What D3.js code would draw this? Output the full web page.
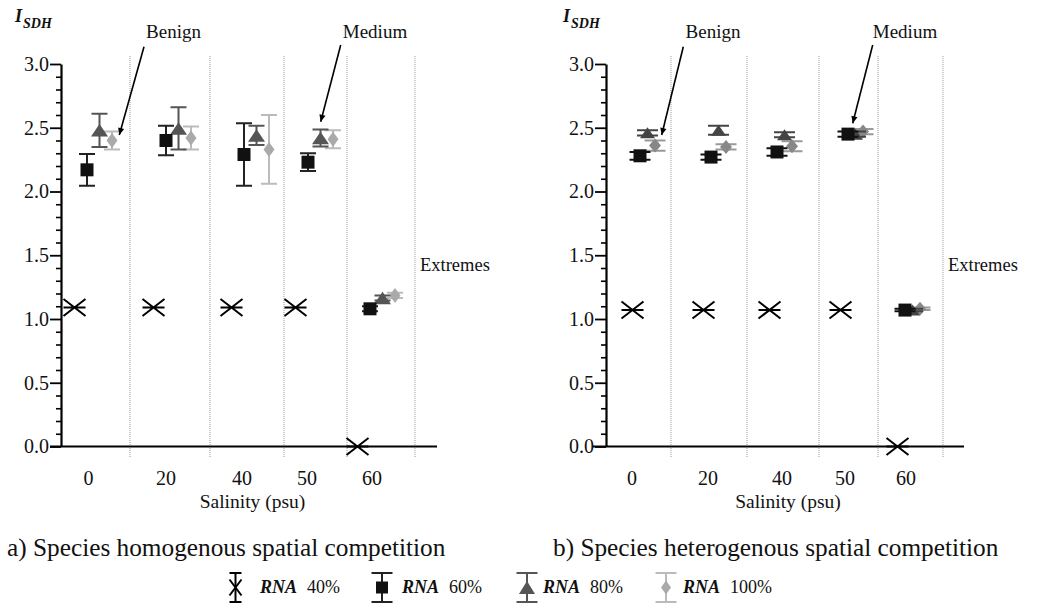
<!DOCTYPE html>
<html><head><meta charset="utf-8">
<script src="https://cdn.jsdelivr.net/npm/d3@7"></script>
</head><body style="margin:0;background:#fff">
<svg id="chart" width="1048" height="606"></svg>
<script>
// ---------------- data ----------------
const categories = ["0", "20", "40", "50", "60"];
const seriesNames = ["RNA 40%", "RNA 60%", "RNA 80%", "RNA 100%"];
const legendPercents = ["40%", "60%", "80%", "100%"];
const yTicks = [0, 0.5, 1, 1.5, 2, 2.5, 3];

// a) homogenous
const homo40 = [1.09, 1.09, 1.09, 1.09, 0.0];
const homo40Err = [0, 0, 0, 0, 0];
const homo60 = [2.17, 2.40, 2.29, 2.23, 1.08];
const homo60Err = [0.125, 0.115, 0.245, 0.07, 0.02];
const homo80 = [2.48, 2.495, 2.44, 2.42, 1.165];
const homo80Err = [0.13, 0.165, 0.075, 0.067, 0.02];
const homo100 = [2.40, 2.42, 2.33, 2.41, 1.185];
const homo100Err = [0.07, 0.09, 0.27, 0.07, 0.02];

// b) heterogenous
const hetero40 = [1.07, 1.07, 1.07, 1.07, 0.0];
const hetero40Err = [0, 0, 0, 0, 0];
const hetero60 = [2.28, 2.27, 2.31, 2.45, 1.07];
const hetero60Err = [0.03, 0.02, 0.03, 0.02, 0.01];
const hetero80 = [2.46, 2.48, 2.445, 2.45, 1.07];
const hetero80Err = [0.02, 0.035, 0.02, 0.02, 0.01];
const hetero100 = [2.36, 2.35, 2.355, 2.47, 1.08];
const hetero100Err = [0.04, 0.02, 0.04, 0.02, 0.01];

// ---------------- layout ----------------
const FONT = "'Liberation Serif', 'Times New Roman', serif";
const svg = d3.select("#chart").style("font-family", FONT);
const y = d3.scaleLinear().domain([0, 3]).range([446.5, 64]);

function txt(sel) { return sel.append("text").style("font-family", FONT); }

const panels = [
  {
    caption: "a) Species homogenous spatial competition", captionX: 7,
    axisX: 61, lineX0: 50, lineX1: 437,
    groupX: [87, 166, 244, 308, 370],
    labelX: [88.5, 166, 242, 307, 372],
    seps: [130, 210, 284, 347, 415],
    offsets: [-12.5, 0, 12.5, 25],
    cap: 16,
    vals: [homo40, homo60, homo80, homo100],
    errs: [homo40Err, homo60Err, homo80Err, homo100Err],
    fills: ["#000", "#111", "#555", "#aaa"],
    errColors: ["#000", "#222", "#555", "#bbb"],
    tri: [17, 12.5], dia: [11, 15], sq: 13,
    xlabelX: 252.5, yLabelX: 15, extremesX: 420,
    notes: [
      {text: "Benign", tx: 173.5, x1: 144, y1: 46.7, x2: 119.3, y2: 135},
      {text: "Medium", tx: 375, x1: 340.7, y1: 45, x2: 320.7, y2: 121.7}
    ]
  },
  {
    caption: "b) Species heterogenous spatial competition", captionX: 553,
    axisX: 606, lineX0: 593, lineX1: 964,
    groupX: [640, 711, 777, 848, 905],
    labelX: [632, 708, 782, 845, 906],
    seps: [671, 747, 819, 878, 943],
    offsets: [-7.5, 0, 7.5, 15],
    cap: 21,
    vals: [hetero40, hetero60, hetero80, hetero100],
    errs: [hetero40Err, hetero60Err, hetero80Err, hetero100Err],
    fills: ["#000", "#111", "#444", "#888"],
    errColors: ["#000", "#111", "#444", "#999"],
    tri: [15, 11], dia: [12, 14], sq: 13,
    xlabelX: 788, yLabelX: 563, extremesX: 948,
    notes: [
      {text: "Benign", tx: 713, x1: 683.3, y1: 46.7, x2: 661.7, y2: 135},
      {text: "Medium", tx: 905, x1: 872.7, y1: 45, x2: 852.7, y2: 123.3}
    ]
  }
];

svg.append("defs").append("marker")
  .attr("id", "arrow").attr("viewBox", "0 0 10 10")
  .attr("refX", 10).attr("refY", 5)
  .attr("markerWidth", 10).attr("markerHeight", 7)
  .attr("markerUnits", "userSpaceOnUse")
  .attr("orient", "auto")
  .append("path").attr("d", "M0,0.5 L10,5 L0,9.5 Z").attr("fill", "#000");

function shapePath(kind, p) {
  if (kind === 1) { const s = p.sq / 2; return `M${-s},${-s}H${s}V${s}H${-s}Z`; }
  if (kind === 2) { const w = p.tri[0] / 2, h = p.tri[1] / 2; return `M0,${-h}L${w},${h}L${-w},${h}Z`; }
  const w = p.dia[0] / 2, h = p.dia[1] / 2;
  return `M0,${-h}L${w},0L0,${h}L${-w},0Z`;
}

panels.forEach(p => {
  const g = svg.append("g");
  const xs = d3.scaleOrdinal().domain(categories).range(p.groupX);
  const xl = d3.scaleOrdinal().domain(categories).range(p.labelX);

  // separators
  g.selectAll(".sep").data(p.seps).join("line")
    .attr("x1", d => d).attr("x2", d => d)
    .attr("y1", 56).attr("y2", 458)
    .attr("stroke", "#999").attr("stroke-width", 1)
    .attr("stroke-dasharray", "1,1");

  // minor ticks
  const minor = d3.range(1, 30).map(i => i / 10).filter(v => Math.abs(v * 2 - Math.round(v * 2)) > 1e-6);
  g.append("g").attr("transform", `translate(${p.axisX},0)`)
    .call(d3.axisLeft(y).tickValues(minor).tickSize(5).tickFormat(""))
    .call(s => s.select(".domain").remove())
    .call(s => s.selectAll("line").attr("stroke", "#000").attr("stroke-width", 1.6));

  // major axis
  const ax = g.append("g").attr("transform", `translate(${p.axisX},0)`)
    .call(d3.axisLeft(y).tickValues(yTicks).tickSize(11).tickSizeOuter(0).tickPadding(1).tickFormat(d3.format(".1f")));
  ax.style("font-family", FONT);
  ax.select(".domain").attr("stroke", "#000").attr("stroke-width", 2.2);
  ax.selectAll(".tick line").attr("stroke", "#000").attr("stroke-width", 1.8);
  ax.selectAll(".tick text").style("font-family", FONT).attr("font-size", 20).attr("fill", "#111");

  // x baseline
  g.append("line").attr("x1", p.lineX0).attr("x2", p.lineX1)
    .attr("y1", y(0)).attr("y2", y(0)).attr("stroke", "#000").attr("stroke-width", 2.2);

  // category labels
  g.selectAll(".cat").data(categories).join("text")
    .style("font-family", FONT)
    .attr("x", d => xl(d)).attr("y", 485)
    .attr("text-anchor", "middle").attr("font-size", 20).attr("fill", "#111").text(d => d);

  txt(g).attr("x", p.xlabelX).attr("y", 508).attr("text-anchor", "middle")
    .attr("font-size", 19.5).attr("fill", "#111").text("Salinity (psu)");

  txt(g).attr("x", p.captionX).attr("y", 556).attr("font-size", 25.3)
    .attr("fill", "#111").text(p.caption);

  // y label I_SDH
  const yl = txt(g).attr("x", p.yLabelX).attr("y", 22)
    .attr("font-style", "italic").attr("font-weight", "bold").attr("fill", "#111");
  yl.append("tspan").attr("font-size", 18).text("I");
  yl.append("tspan").attr("font-size", 14).attr("dy", 6).attr("dx", 1).text("SDH");

  // Extremes
  txt(g).attr("x", p.extremesX).attr("y", 271).attr("font-size", 18.5)
    .attr("fill", "#111").text("Extremes");

  // series drawn from last to first
  [3, 2, 1, 0].forEach(si => {
    const vals = p.vals[si], errs = p.errs[si];
    const pts = categories.map((c, i) => ({c, v: vals[i], e: errs[i]}));
    const sg = g.append("g").attr("class", "series-" + si);
    const cx = d => xs(d.c) + p.offsets[si];
    if (si === 0) {
      const w = 11, h = 8.5;
      pts.forEach(d => {
        const X = cx(d), Y = y(d.v);
        sg.append("path")
          .attr("d", `M${X - w},${Y - h}L${X + w},${Y + h}M${X - w},${Y + h}L${X + w},${Y - h}M${X - w},${Y}H${X + w}`)
          .attr("stroke", p.fills[0]).attr("stroke-width", 2).attr("fill", "none");
      });
      return;
    }
    const eb = pts.filter(d => d.e > 0);
    sg.selectAll(".ev").data(eb).join("path")
      .attr("d", d => {
        const X = cx(d), y1 = y(d.v + d.e), y2 = y(d.v - d.e), c = p.cap / 2;
        return `M${X},${y1}V${y2}M${X - c},${y1}H${X + c}M${X - c},${y2}H${X + c}`;
      })
      .attr("stroke", p.errColors[si]).attr("stroke-width", 2).attr("fill", "none");
    sg.selectAll(".mk").data(pts).join("path")
      .attr("transform", d => `translate(${cx(d)},${y(d.v)})`)
      .attr("d", shapePath(si, p))
      .attr("fill", p.fills[si]);
  });

  // annotations
  p.notes.forEach(n => {
    txt(g).attr("x", n.tx).attr("y", 38).attr("text-anchor", "middle")
      .attr("font-size", 19).attr("fill", "#111").text(n.text);
    g.append("line").attr("x1", n.x1).attr("y1", n.y1).attr("x2", n.x2).attr("y2", n.y2)
      .attr("stroke", "#000").attr("stroke-width", 1.6).attr("marker-end", "url(#arrow)");
  });
});

// ---------------- legend ----------------
const legendIconX = [235.5, 382, 527, 666];
const legendTextX = [260, 402, 543, 683];
const legendFills = ["#000", "#111", "#555", "#aaa"];
const legendBars = ["#000", "#222", "#555", "#bbb"];
const lg = svg.append("g");
seriesNames.forEach((name, i) => {
  const X = legendIconX[i], top = 573, bot = 602, mid = 587.5;
  const c = i === 0 ? 6 : 10.5;
  lg.append("path")
    .attr("d", `M${X},${top}V${bot}M${X - c},${top}H${X + c}M${X - c},${bot}H${X + c}`)
    .attr("stroke", legendBars[i]).attr("stroke-width", 2).attr("fill", "none");
  if (i === 0) {
    lg.append("path").attr("d", `M${X - 6},${mid - 8}L${X + 6},${mid + 8}M${X - 6},${mid + 8}L${X + 6},${mid - 8}`)
      .attr("stroke", "#000").attr("stroke-width", 2);
  } else {
    const p = {sq: 12, tri: [16, 13], dia: [10, 14]};
    lg.append("path").attr("transform", `translate(${X},${mid})`)
      .attr("d", shapePath(i, p)).attr("fill", legendFills[i]);
  }
  const t = txt(lg).attr("x", legendTextX[i]).attr("y", 593).attr("font-size", 18).attr("fill", "#111");
  t.append("tspan").attr("font-style", "italic").attr("font-weight", "bold").text(name.split(" ")[0]);
  t.append("tspan").attr("dx", 10).text(legendPercents[i]);
});
</script>
</body></html>
